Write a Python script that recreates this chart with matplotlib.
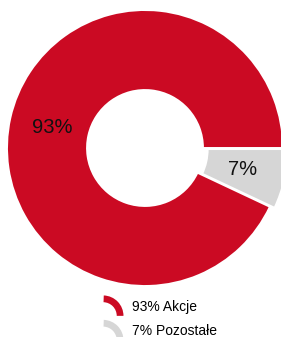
import matplotlib.pyplot as plt
from matplotlib.patches import Wedge
from matplotlib.legend_handler import HandlerBase

plt.rcParams['font.family'] = ['Liberation Sans', 'DejaVu Sans']

# data
shares = [93, 7]
names = ['Akcje', 'Pozostałe']
colors = ['#CB0A23', '#D6D6D6']
explode = [0, 0.035]


class ArcHandler(HandlerBase):
    # legend icon drawn as a piece of a ring
    def create_artists(self, legend, orig_handle, xdescent, ydescent,
                       width, height, fontsize, trans):
        r = width * 1.05
        arc = Wedge((-xdescent - width * 0.1, -ydescent - height * 0.5), r, 0, 88,
                    width=r * 0.33, facecolor=orig_handle.get_facecolor(),
                    edgecolor='none', transform=trans)
        return [arc]


fig = plt.figure(figsize=(2.81, 3.37), dpi=100)
ax = fig.add_axes([7 / 281, 51 / 337, 276 / 281, 276 / 337])

wedges, texts, autotexts = ax.pie(
    shares, colors=colors, explode=explode, startangle=0,
    autopct='%.0f%%', pctdistance=0.69,
    wedgeprops=dict(width=0.58, edgecolor='white', linewidth=1.4),
    textprops=dict(fontsize=14.5, color='#111111'))
for w in wedges:
    w.set_clip_on(False)
ax.set_xlim(-1, 1)
ax.set_ylim(-1, 1)
ax.set_aspect('equal')

labels = [f'{s}% {n}' for s, n in zip(shares, names)]
fig.legend(wedges, labels, loc='upper left',
           bbox_to_anchor=(105 / 281, 1 - 300 / 337),
           frameon=False, fontsize=10, borderpad=0, borderaxespad=0,
           handlelength=1.4, handletextpad=0.55, labelspacing=0.75,
           handler_map={Wedge: ArcHandler()})

fig.savefig('out.png', dpi=100)
